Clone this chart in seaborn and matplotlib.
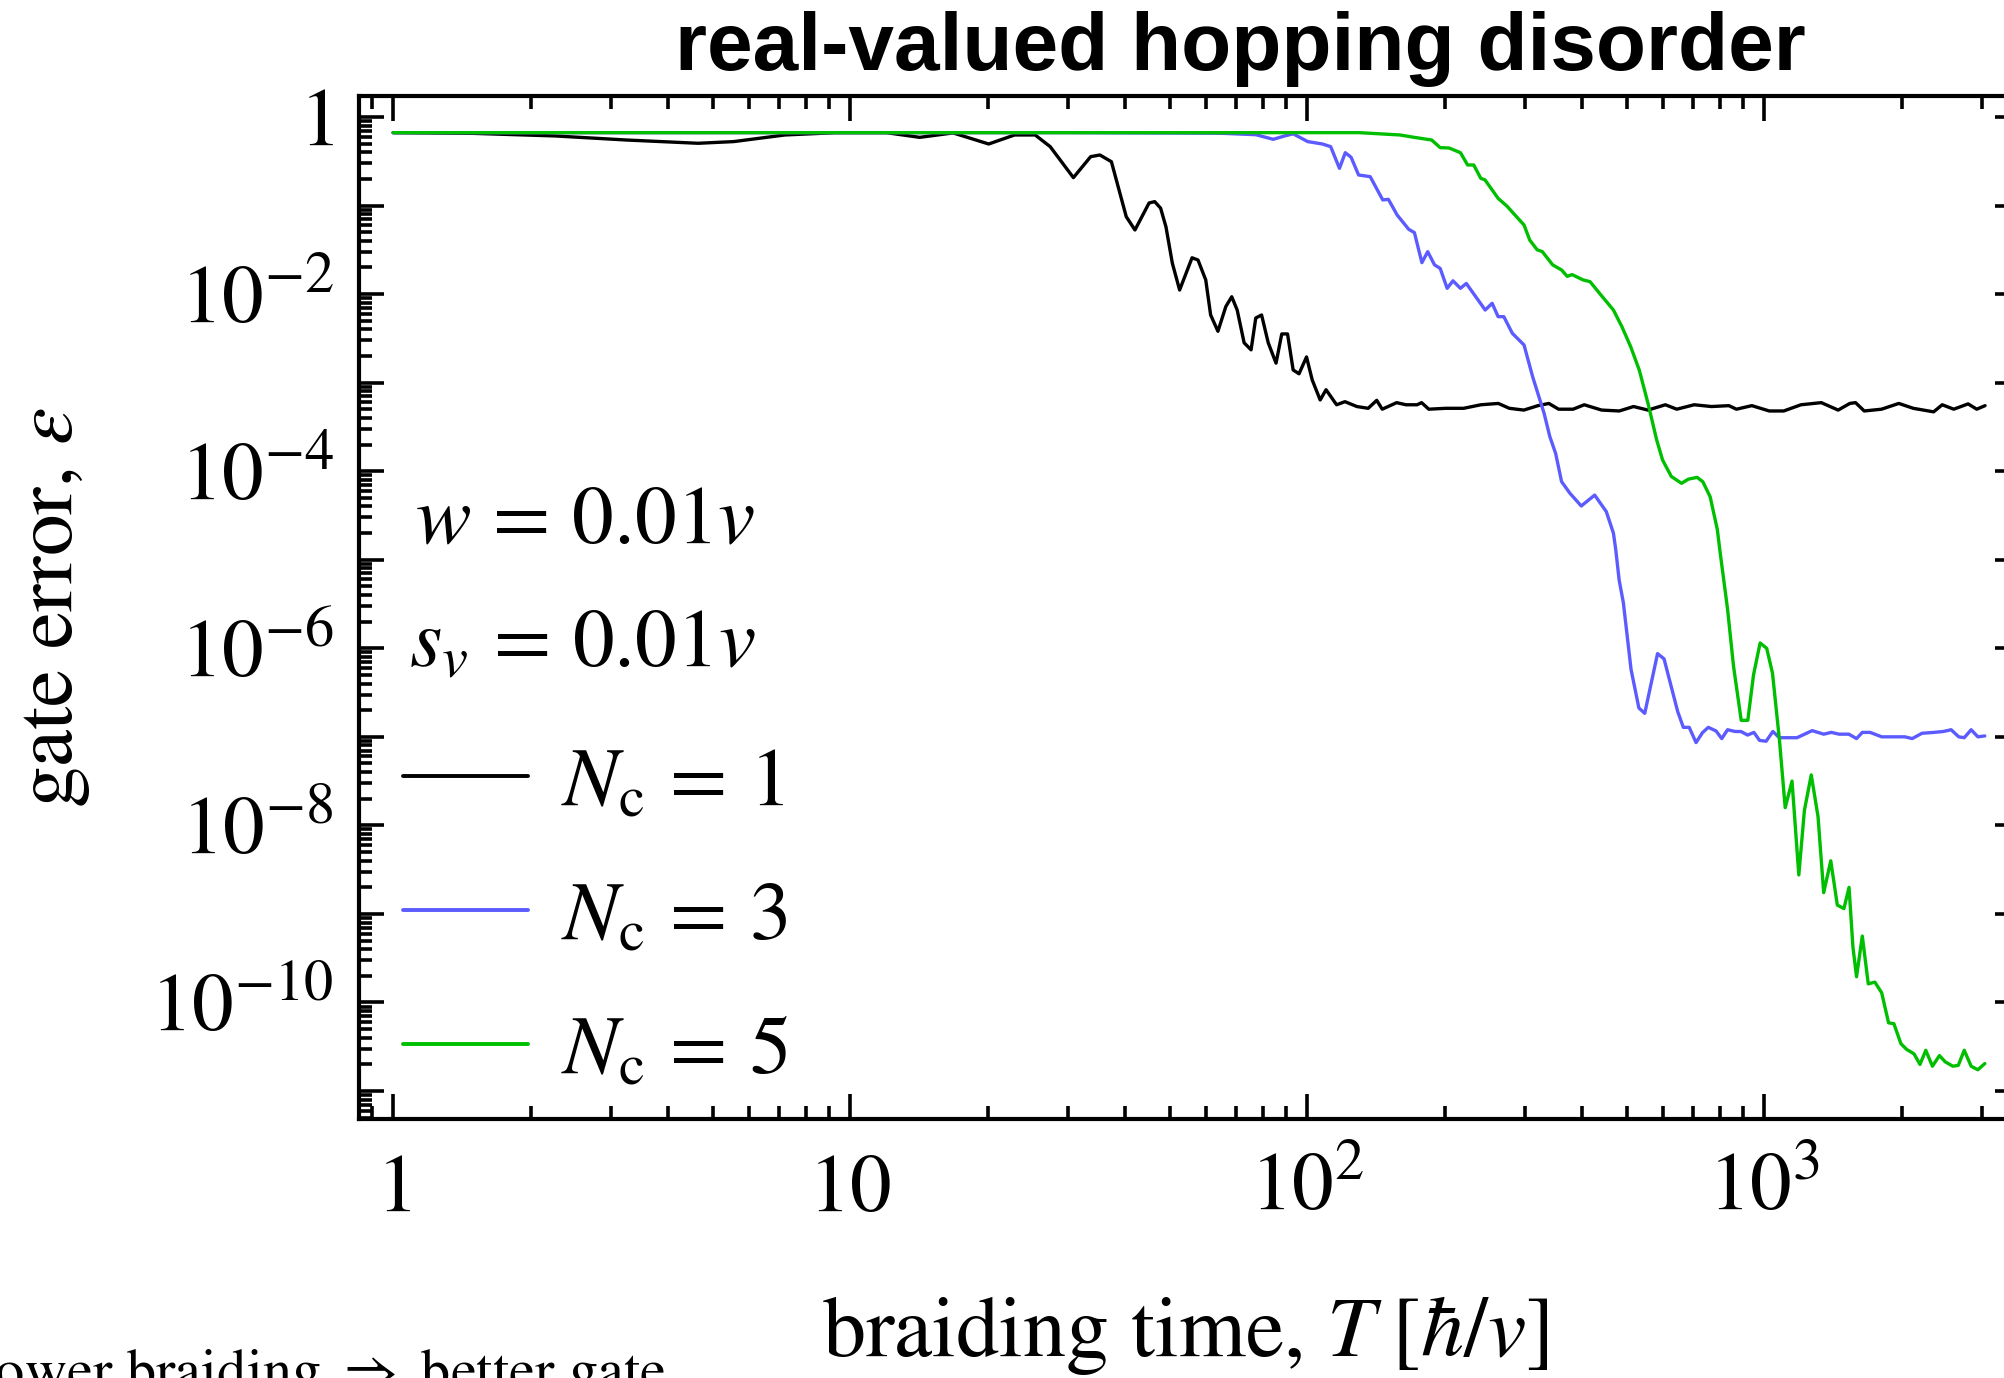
import numpy as np
import pandas as pd
import matplotlib
matplotlib.use("Agg")
import matplotlib.pyplot as plt
import seaborn as sns

# ---------------- data ----------------
# braiding time T [hbar/v] and log10(gate error)
T_nc1 = [1, 1.5, 2.26, 3.24, 4.65, 5.56, 7.2, 9.3, 12, 14.2, 16.8, 20.1, 22.9, 25.4, 27.4,
         30.8, 33.6, 35.2, 37.3, 40.2, 42, 45.1, 46.4, 47.8, 49.1, 50.7, 52.6, 56, 57.7, 60,
         61.5, 63.8, 66.4, 68.4, 70.3, 72.8, 75.4, 77.2, 79.5, 82.2, 85.5, 88, 90.6, 93.2, 96,
         99.7, 102.6, 106.8, 110, 116, 121, 128.5, 136, 142, 146, 157, 164.5, 174, 178, 184.6,
         201, 220, 240, 262, 277, 298, 320, 338, 355, 382, 404, 441, 482, 518, 557, 608, 644,
         703, 767, 837, 870, 940, 1026, 1104, 1204, 1334, 1452, 1540, 1585, 1656, 1807, 1971,
         2120, 2349, 2453, 2600, 2795, 2919, 3044]
logeps_nc1 = [-0.177, -0.185, -0.214, -0.26, -0.297, -0.278, -0.203, -0.177, -0.177, -0.23,
              -0.18, -0.305, -0.203, -0.203, -0.335, -0.685, -0.448, -0.429, -0.505, -1.126,
              -1.276, -0.971, -0.956, -1.03, -1.24, -1.65, -1.954, -1.59, -1.615, -1.84,
              -2.236, -2.42, -2.14, -2.03, -2.18, -2.55, -2.63, -2.27, -2.236, -2.55, -2.78,
              -2.45, -2.45, -2.857, -2.9, -2.71, -2.97, -3.196, -3.08, -3.25, -3.215, -3.27,
              -3.29, -3.2, -3.3, -3.226, -3.25, -3.25, -3.226, -3.3, -3.29, -3.29, -3.25,
              -3.235, -3.29, -3.31, -3.26, -3.235, -3.3, -3.3, -3.25, -3.31, -3.32, -3.27,
              -3.31, -3.25, -3.3, -3.25, -3.27, -3.26, -3.3, -3.26, -3.32, -3.32, -3.25,
              -3.226, -3.31, -3.235, -3.226, -3.32, -3.3, -3.235, -3.29, -3.33, -3.25, -3.3,
              -3.24, -3.3, -3.26]

T_nc3 = [1, 30, 64.9, 77.2, 84.3, 89.3, 93.2, 100.3, 108, 112.6, 117.7, 121.2, 124.8, 129.6,
         137.4, 146.4, 150.6, 157.4, 166.8, 171.7, 178.3, 183.6, 190, 195.5, 202.5, 208.5,
         216.5, 223, 245.3, 254, 261.8, 269.4, 281.2, 298.3, 311.5, 330, 339.7, 349.8, 360.4,
         376, 398, 425.8, 451.5, 468, 473.6, 481.7, 492, 511.5, 532, 548, 584.5, 604, 647,
         665.6, 685.6, 709.6, 733, 755, 785, 807.7, 831.8, 864.6, 890, 920, 950, 977, 1010,
         1045, 1080, 1180, 1274, 1350, 1403, 1459, 1532, 1593, 1640, 1706, 1808, 1955, 2032,
         2109, 2215, 2350, 2466, 2566, 2666, 2741, 2838, 2936, 3040]
logeps_nc3 = [-0.177, -0.177, -0.184, -0.2, -0.252, -0.214, -0.19, -0.278, -0.305, -0.335,
              -0.58, -0.403, -0.455, -0.655, -0.674, -0.937, -0.93, -1.107, -1.268, -1.306,
              -1.645, -1.521, -1.67, -1.71, -1.935, -1.85, -1.935, -1.88, -2.18, -2.104,
              -2.255, -2.255, -2.443, -2.575, -2.933, -3.346, -3.61, -3.8, -4.118, -4.25,
              -4.393, -4.27, -4.457, -4.7, -4.89, -5.23, -5.485, -6.24, -6.674, -6.735, -6.06,
              -6.12, -6.715, -6.893, -6.893, -7.065, -6.953, -6.893, -6.934, -7.02, -6.92,
              -6.94, -6.94, -6.98, -6.95, -7.04, -7.05, -6.94, -7.01, -7.01, -6.93, -6.97,
              -6.95, -6.97, -6.97, -7.02, -6.95, -6.95, -7.0, -7.0, -7.0, -7.02, -6.96, -6.95,
              -6.94, -6.92, -7.0, -7.01, -6.92, -7.0, -6.99]

T_nc5 = [1, 60, 130, 159.6, 171.5, 187.3, 195.5, 204.4, 216.5, 224.5, 231.5, 239.9, 245,
         261.8, 273.5, 298.3, 307, 318.7, 327, 344.6, 360.4, 370.8, 380, 401.7, 416, 441, 468,
         488.6, 510.5, 533, 557, 582, 599.5, 626.5, 659.6, 682.6, 713.6, 734.5, 762, 790, 800,
         832, 857, 891, 921, 948, 980, 1013, 1043, 1080, 1112, 1151, 1191, 1225, 1268, 1312,
         1350, 1399, 1446, 1495, 1534, 1564, 1593, 1640, 1690, 1747, 1808, 1872, 1923, 1992,
         2050, 2128, 2193, 2258, 2335, 2419, 2490, 2588, 2660, 2741, 2838, 2936, 3040]
logeps_nc5 = [-0.177, -0.177, -0.177, -0.203, -0.23, -0.26, -0.346, -0.35, -0.403, -0.542,
              -0.542, -0.693, -0.71, -0.919, -1.005, -1.22, -1.39, -1.5, -1.52, -1.67, -1.728,
              -1.8, -1.78, -1.84, -1.86, -2.02, -2.18, -2.37, -2.594, -2.857, -3.233, -3.648,
              -3.874, -4.06, -4.137, -4.09, -4.07, -4.12, -4.29, -4.66, -4.89, -5.564, -6.2,
              -6.814, -6.814, -6.3, -5.94, -6.0, -6.28, -7.03, -7.8, -7.5, -8.56, -7.83, -7.43,
              -7.9, -8.76, -8.4, -8.9, -8.94, -8.7, -9.37, -9.71, -9.25, -9.79, -9.77, -9.89,
              -10.23, -10.24, -10.465, -10.53, -10.58, -10.70, -10.54, -10.72, -10.6, -10.67,
              -10.72, -10.71, -10.54, -10.72, -10.76, -10.69]

series_labels = [r"$N_{\mathrm{c}}\,=\,1$", r"$N_{\mathrm{c}}\,=\,3$", r"$N_{\mathrm{c}}\,=\,5$"]
series_colors = ["#000000", "#5b5bff", "#00bf00"]

xtick_values = [1, 10, 100, 1000]
xtick_labels = [r"$1$", r"$10$", r"$10^{2}$", r"$10^{3}$"]
ytick_exponents = list(range(-11, 1))
ytick_labels = ["" if e % 2 else (r"$1$" if e == 0 else r"$10^{%d}$" % e) for e in ytick_exponents]

title_text = "real-valued hopping disorder"
xlabel_text = r"braiding time, $T\;\left[\hbar/v\right]$"
ylabel_text = r"gate error, $\varepsilon$"
param_texts = [r"$w\,=\,0.01v$", r"$s_v\,=\,0.01v$"]
bottom_text = r"slower braiding $\Rightarrow$ better gate"

# ---------------- build table ----------------
frames = []
for T, le, lab in zip([T_nc1, T_nc3, T_nc5], [logeps_nc1, logeps_nc3, logeps_nc5], series_labels):
    frames.append(pd.DataFrame({"T": T, "eps": 10.0 ** np.asarray(le), "series": lab}))
df = pd.concat(frames, ignore_index=True)

# ---------------- style ----------------
sns.set_theme(style="ticks")
plt.rcParams["font.family"] = ["STIXGeneral", "DejaVu Serif"]
plt.rcParams["mathtext.fontset"] = "stix"
plt.rcParams["axes.linewidth"] = 1.5
for key in ["text.color", "axes.labelcolor", "xtick.color", "ytick.color", "axes.edgecolor"]:
    plt.rcParams[key] = "black"

DPI = 200
fig = plt.figure(figsize=(2004 / DPI, 1378 / DPI), dpi=DPI)
ax = fig.add_axes([359 / 2004, 1 - 1119 / 1378, (2020 - 359) / 2004, (1119 - 96) / 1378])

sns.lineplot(data=df, x="T", y="eps", hue="series", hue_order=series_labels,
             palette=dict(zip(series_labels, series_colors)), estimator=None, sort=False,
             linewidth=1.2, legend=False, ax=ax)

ax.set_xscale("log")
ax.set_yscale("log")

ax.set_xticks(xtick_values, xtick_labels)
ax.set_xticks([m * 10.0 ** k for k in range(-1, 4) for m in range(2, 10)], minor=True)
ax.set_yticks([10.0 ** e for e in ytick_exponents], ytick_labels)
ax.set_yticks([m * 10.0 ** k for k in range(-12, 1) for m in range(2, 10)], minor=True)
ax.xaxis.set_minor_formatter(matplotlib.ticker.NullFormatter())
ax.yaxis.set_minor_formatter(matplotlib.ticker.NullFormatter())
ax.set_xlim(0.842, 3630)
ax.set_ylim(10 ** -11.316, 10 ** 0.237)

ax.tick_params(which="both", direction="in", top=True, right=True, width=1.3, color="black",
               labelcolor="black")
ax.tick_params(which="major", length=9)
ax.tick_params(which="minor", length=4.8)
ax.tick_params(axis="y", labelsize=30, pad=9)
ax.tick_params(axis="x", labelsize=30, pad=33)
for t in ax.xaxis.get_major_ticks():
    t.label1.set_verticalalignment("baseline")
for sp in ax.spines.values():
    sp.set_linewidth(1.5)
    sp.set_color("black")

ax.set_xlabel(xlabel_text, fontsize=31, color="black")
ax.set_ylabel(ylabel_text, fontsize=30, color="black")
ax.xaxis.set_label_coords((1185 - 359) / 1661, -(1356 - 1119) / 1023)
ax.xaxis.label.set_verticalalignment("baseline")
ax.yaxis.set_label_coords(-(359 - 92) / 1661, 0.5)

# parameter annotations
ax.text((415 - 359) / 1661, (1119 - 543) / 1023, param_texts[0], transform=ax.transAxes,
        fontsize=30, ha="left", va="baseline", color="black")
ax.text((409 - 359) / 1661, (1119 - 665) / 1023, param_texts[1], transform=ax.transAxes,
        fontsize=30, ha="left", va="baseline", color="black")

leg = ax.legend(handles=list(ax.get_lines()[:3]), labels=series_labels, loc="upper left",
                bbox_to_anchor=((403 - 359) / 1661, (1119 - 747) / 1023), frameon=False,
                fontsize=30, handlelength=1.5, handletextpad=0.4, labelspacing=0.69,
                borderpad=0, borderaxespad=0, labelcolor="black")
for h in leg.legend_handles:
    h.set_linewidth(1.4)

fig.text(1240 / 2004, 1 - 70 / 1378, title_text, ha="center", va="baseline", color="black",
         fontsize=29.5, fontweight="bold", family=["Liberation Sans", "DejaVu Sans"])
fig.text(-44 / 2004, 1 - 1389 / 1378, bottom_text, ha="left", va="baseline", fontsize=21,
         color="black")

fig.savefig("out.png", dpi=DPI)
